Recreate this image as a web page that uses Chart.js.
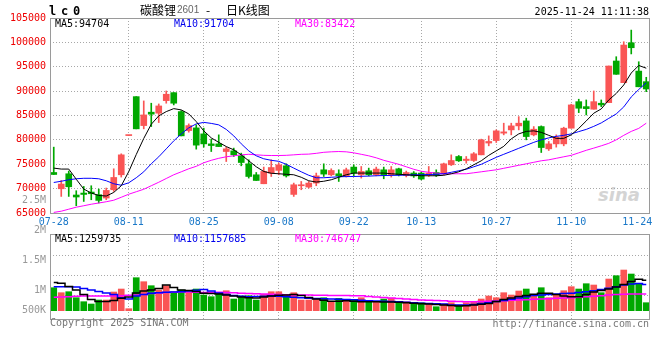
<!DOCTYPE html>
<html><head><meta charset="utf-8">
<script src="https://cdn.jsdelivr.net/npm/chart.js@4.4.1/dist/chart.umd.min.js"></script>
<style>
html,body{margin:0;padding:0;background:#fff;}
#stage{position:relative;width:660px;height:360px;overflow:hidden;background:#fff;}
canvas{position:absolute;left:0;}
.t{position:absolute;white-space:pre;font:10px/10px 'DejaVu Sans Mono',monospace;color:#000;}
</style></head><body>
<div id="stage">
<div class="t" style="left:598px;top:186px;font:bold italic 18px/18px 'DejaVu Sans',sans-serif;color:#d4d4d4">sina</div>
<canvas id="kc" width="660" height="228" style="top:0"></canvas>
<canvas id="vc" width="660" height="150" style="top:190px"></canvas>
<div class="t" style="left:49px;top:5px;font:bold 12px/12px 'DejaVu Sans Mono',monospace;letter-spacing:4.8px">lc0</div>
<div class="t" style="left:140px;top:4px;font:12px/12px 'Noto Sans CJK SC',sans-serif">碳酸锂</div>
<div class="t" style="left:177px;top:5px;font:10px/10px 'Liberation Sans',sans-serif;color:#666">2601</div>
<div class="t" style="left:206px;top:4px;font:12px/12px 'Noto Sans CJK SC',sans-serif">-</div>
<div class="t" style="left:226px;top:4px;font:12px/12px 'Noto Sans CJK SC',sans-serif">日K线图</div>
<div class="t" style="right:11px;top:7px">2025-11-24 11:11:38</div>
<div class="t" style="left:55px;top:19px">MA5:94704</div>
<div class="t" style="left:174px;top:19px;color:#0000ee">MA10:91704</div>
<div class="t" style="left:295px;top:19px;color:#ff00ff">MA30:83422</div>
<div class="t" style="left:55px;top:234px">MA5:1259735</div>
<div class="t" style="left:174px;top:234px;color:#0000ee">MA10:1157685</div>
<div class="t" style="left:295px;top:234px;color:#ff00ff">MA30:746747</div>
<div class="t" style="left:50px;top:318px;color:#777">Copyright 2025 SINA.COM</div>
<div class="t" style="right:11px;top:319px;color:#777">http://finance.sina.com.cn</div>
</div>
<script>
const dates = ['07-28','07-29','07-30','07-31','08-01','08-04','08-05','08-06','08-07','08-08',
'08-11','08-12','08-13','08-14','08-15','08-18','08-19','08-20','08-21','08-22',
'08-25','08-26','08-27','08-28','08-29','09-01','09-02','09-03','09-04','09-05',
'09-08','09-09','09-10','09-11','09-12','09-15','09-16','09-17','09-18','09-19',
'09-22','09-23','09-24','09-25','09-26','09-29','09-30','10-09','10-10',
'10-13','10-14','10-15','10-16','10-17','10-20','10-21','10-22','10-23','10-24',
'10-27','10-28','10-29','10-30','10-31','11-03','11-04','11-05','11-06','11-07',
'11-10','11-11','11-12','11-13','11-14','11-17','11-18','11-19','11-20','11-21',
'11-24'];
const tickDates = ['07-28','08-11','08-25','09-08','09-22','10-13','10-27','11-10','11-24'];

const opens = [73310,69970,73050,68690,69090,69300,68750,68070,69770,72840,
80880,88870,82930,85680,85470,88050,89690,85800,81910,82460,
81230,79180,79180,77610,77750,76730,75090,72840,71000,73190,
73740,74680,68810,70590,70320,71140,73860,72840,73050,72490,
74420,72840,73660,72840,73860,72840,74070,72700,73200,73190,
72780,73310,73050,74890,76590,75770,75770,76930,79350,79860,
81380,82050,82870,83890,81030,82730,78160,79180,79180,82400,
87840,86820,86290,87520,87640,96180,91730,99920,94110,91940];
const highs = [78510,71670,73600,69570,70450,70590,69910,70120,74070,77140,
80940,88870,87990,87520,87370,90030,89690,86000,83280,83080,
82400,80150,81030,78510,78310,77280,75910,73310,74420,75910,
75240,75090,71140,71470,71470,73190,75090,74070,73860,74210,
74890,74540,74210,74420,74420,74540,74200,73600,73500,73400,
74540,73860,75240,76930,76790,76590,77410,80150,80820,82050,
83420,83420,84770,84450,82730,82870,79670,81030,82600,87310,
88340,88190,90030,88190,95150,97060,100130,102520,96030,92840];
const lows = [72900,68400,68400,66490,67370,67720,67050,67720,69420,72370,
80880,82260,82260,82730,83550,87520,87170,80820,81580,78100,
78510,77610,78630,75560,76590,74680,72160,71670,71000,72490,
72840,72370,68400,69770,70120,70590,72490,72620,71470,72370,
72620,72160,72620,72620,72020,72370,72600,72400,72300,71800,
72490,72490,72840,74740,75560,75220,75560,76930,78780,79470,
81030,81030,82050,80010,80820,77410,77820,78510,78780,82400,
85590,85120,86290,86820,87640,93450,91730,97630,90890,89890];
const closes = [72900,70940,70380,68280,68810,68950,67580,69630,72290,76930,
80940,82260,85120,85270,86960,89360,87520,80820,82930,78920,
79180,78840,78630,78160,76930,75360,72490,71670,73520,74330,
74890,72620,70790,70790,71140,72620,72980,73720,72640,73860,
73190,73520,72840,74010,72840,73860,72840,73300,72600,71960,
73190,72780,75090,75770,75710,76050,77140,80010,79670,81850,
81640,82870,83420,80680,82190,78430,79180,80560,82400,87170,
86490,86410,87840,87170,95150,93450,99450,98900,90890,90440];

const ma5 = [74210,74010,74010,71920,69910,69090,68600,68480,69220,70590,
73500,77000,80300,83200,84920,85800,86410,86150,85330,83750,
81850,80410,79490,78630,77960,76930,75710,74480,73520,73150,
73050,72940,72840,72330,71610,71350,71510,71820,72330,72840,
73190,73190,73190,73190,73190,73050,72940,72840,72740,72640,
72640,72640,72740,73050,73450,74070,74890,75710,76830,77750,
78670,80210,81230,81740,81850,81540,80930,80310,80310,81030,
82360,83890,85470,86350,88190,89520,91260,93720,95260,94704];
const ma10 = [71260,71510,71820,72020,72120,72120,72020,71610,71000,70690,
71200,72230,73450,75090,76530,78160,79800,81230,82460,83280,
83590,83380,83080,82150,80820,79190,77750,76730,76120,75810,
75600,74990,74210,73450,72740,72230,72230,72330,72430,72470,
72490,72530,72570,72640,72680,72720,72740,72780,72840,72840,
72900,72940,73050,73350,73660,73970,74480,74990,75710,76420,
77040,77650,78270,78880,79490,80010,80410,80720,80930,81230,
81700,82150,82770,83480,84410,85330,86760,88810,90340,91704];
const ma30 = [65120,65370,65780,66190,66490,66800,67050,67310,67620,68230,
68850,69360,69870,70590,71310,72080,72840,73450,74070,74580,
75300,75810,76220,76530,76730,76930,77040,76930,76830,76790,
76790,76830,76930,77040,77080,77240,77450,77550,77610,77550,
77340,77040,76730,76320,75810,75400,74990,74480,73970,73560,
73350,73190,73050,73050,73050,73050,73250,73450,73660,73860,
74170,74480,74790,75090,75400,75710,75910,76220,76530,76830,
77340,77860,78310,78780,79290,80010,80930,81740,82360,83422];

const volumes = [1075000,950000,975000,825000,725000,667000,767000,767000,967000,1042000,
550000,1325000,1225000,1125000,1017000,1125000,975000,1017000,975000,1042000,
892000,850000,950000,1000000,792000,867000,875000,767000,908000,975000,
975000,875000,950000,767000,767000,808000,825000,725000,808000,750000,
767000,825000,725000,725000,792000,808000,725000,725000,700000,700000,
683000,600000,667000,700000,642000,700000,725000,792000,867000,825000,
950000,892000,992000,1042000,867000,1075000,825000,892000,1000000,1100000,
1042000,1175000,1142000,950000,1292000,1375000,1517000,1417000,1183000,700000];
const volMa5 = [1205000,1185000,1105000,1018000,905000,780000,730000,730000,755000,810000,
843000,943000,993000,1018000,1055000,1143000,1080000,1018000,1005000,980000,
935000,930000,918000,893000,868000,843000,825000,818000,843000,868000,
885000,893000,905000,880000,830000,793000,760000,735000,735000,750000,
735000,725000,725000,725000,718000,718000,710000,700000,685000,675000,
668000,655000,643000,630000,618000,625000,643000,660000,680000,730000,
780000,818000,855000,880000,910000,935000,935000,905000,868000,850000,
850000,905000,968000,1005000,1043000,1093000,1155000,1230000,1285000,1259735];
const volMa10 = [1100000,1100000,1100000,1093000,1055000,1018000,980000,943000,905000,825000,
793000,868000,905000,935000,950000,960000,968000,975000,993000,1010000,
1030000,993000,943000,905000,880000,860000,850000,855000,860000,868000,
860000,850000,835000,825000,810000,805000,800000,793000,788000,780000,
773000,760000,750000,743000,735000,730000,725000,713000,700000,688000,
680000,673000,668000,643000,643000,643000,655000,680000,700000,730000,
755000,785000,818000,850000,880000,893000,905000,918000,930000,935000,
955000,975000,1000000,1030000,1060000,1098000,1143000,1168000,1180000,1157685];
const volMa30 = [835000,843000,850000,860000,868000,868000,868000,868000,868000,875000,
885000,893000,905000,930000,943000,955000,963000,968000,968000,963000,
958000,960000,960000,955000,948000,938000,930000,923000,915000,910000,
905000,900000,895000,893000,890000,888000,885000,883000,880000,878000,
875000,873000,855000,843000,830000,818000,805000,793000,780000,768000,
760000,753000,750000,738000,730000,725000,725000,730000,735000,743000,
750000,760000,768000,775000,785000,793000,800000,810000,818000,825000,
835000,848000,860000,875000,893000,905000,913000,918000,918000,918000];

const priceTicks = [65000,70000,75000,80000,85000,90000,95000,100000,105000];
const volGridValues = [885000,1385000,1875000];
const volTickValues = [500000,1000000,1750000,2510000,3250000];
const volTickLabels = ['500K','1M','1.5M','2M','2.5M'];

const UP = '#fa5555', DOWN = '#00a800', GRID = '#a8a8a8';
const isUp = i => closes[i] >= opens[i];
const candleColor = c => isUp(c.dataIndex) ? UP : DOWN;
const isKey = i => tickDates.includes(dates[i]);
const innerKey = i => isKey(i) && i !== 0 && i !== dates.length - 1;

Chart.defaults.font.family = "'DejaVu Sans Mono', monospace";
Chart.defaults.font.size = 10;
Chart.defaults.animation = false;

const frame = {
  id: 'frame',
  afterDraw(chart) {
    const a = chart.chartArea, ctx = chart.ctx;
    ctx.save();
    ctx.strokeStyle = '#9a9a9a';
    ctx.lineWidth = 1;
    ctx.strokeRect(Math.round(a.left) + 0.5, Math.round(a.top) + 0.5,
                   Math.round(a.right - a.left) - 1, Math.round(a.bottom - a.top));
    ctx.restore();
  }
};

const xCommon = {
  type: 'category',
  offset: true,
  grid: { offset: false, drawTicks: false, color: c => innerKey(c.index) ? GRID : 'rgba(0,0,0,0)', lineWidth: 1 },
  border: { display: false, dash: [1, 2] },
};

new Chart(document.getElementById('kc'), {
  data: {
    labels: dates,
    datasets: [
      { type: 'line', label: 'MA5', data: ma5, borderColor: '#000', borderWidth: 1, pointRadius: 0, order: 1 },
      { type: 'line', label: 'MA10', data: ma10, borderColor: '#0000ff', borderWidth: 1, pointRadius: 0, order: 1 },
      { type: 'line', label: 'MA30', data: ma30, borderColor: '#ff00ff', borderWidth: 1, pointRadius: 0, order: 1 },
      { type: 'bar', label: 'HL', data: lows.map((l, i) => [l, highs[i]]), backgroundColor: candleColor,
        barThickness: 1, grouped: false, order: 3 },
      { type: 'bar', label: 'OC', data: opens.map((o, i) => [o, closes[i]]), backgroundColor: candleColor,
        barThickness: 6, minBarLength: 1, grouped: false, order: 2 }
    ]
  },
  options: {
    responsive: false,
    devicePixelRatio: 1,
    layout: { padding: { top: 18, right: 10, left: 0, bottom: 0 } },
    plugins: { legend: { display: false }, tooltip: { enabled: false } },
    scales: {
      x: Object.assign({}, xCommon, {
        ticks: { autoSkip: false, maxRotation: 0, minRotation: 0, padding: 3, color: '#1a78c8',
          callback: (v, i) => isKey(i) ? (i === dates.length - 1 ? dates[i] + '   ' : dates[i]) : '' },
        afterFit: s => { s.height = 15; s.paddingLeft = 0; s.paddingRight = 0; }
      }),
      y: {
        min: priceTicks[0], max: priceTicks[priceTicks.length - 1],
        afterBuildTicks: s => { s.ticks = priceTicks.map(v => ({ value: v })); },
        ticks: { color: '#ee0000', padding: 4, callback: v => String(v) },
        grid: { color: GRID, drawTicks: false },
        border: { display: false, dash: [1, 2] },
        afterFit: s => { s.width = 50; }
      }
    }
  },
  plugins: [frame]
});

new Chart(document.getElementById('vc'), {
  data: {
    labels: dates,
    datasets: [
      { type: 'line', label: 'VMA5', data: volMa5, borderColor: '#000', borderWidth: 1.5, pointRadius: 0, stepped: 'middle', order: 1 },
      { type: 'line', label: 'VMA10', data: volMa10, borderColor: '#0000ff', borderWidth: 1.5, pointRadius: 0, stepped: 'middle', order: 1 },
      { type: 'line', label: 'VMA30', data: volMa30, borderColor: '#ff00ff', borderWidth: 1.5, pointRadius: 0, stepped: 'middle', order: 1 },
      { type: 'bar', label: 'VOL', data: volumes, base: 500000, backgroundColor: candleColor, barThickness: 6, order: 2 }
    ]
  },
  options: {
    responsive: false,
    devicePixelRatio: 1,
    layout: { padding: { top: 44, right: 10, left: 0, bottom: 21 } },
    plugins: { legend: { display: false }, tooltip: { enabled: false } },
    scales: {
      x: Object.assign({}, xCommon, {
        ticks: { display: false, autoSkip: false, maxRotation: 0, minRotation: 0 },
        afterFit: s => { s.height = 0; s.paddingLeft = 0; s.paddingRight = 0; }
      }),
      y: {
        position: 'left', min: 292500, max: 2417500,
        afterBuildTicks: s => { s.ticks = volGridValues.map(v => ({ value: v })); },
        ticks: { display: false },
        grid: { color: GRID, drawTicks: false },
        border: { display: false, dash: [1, 2] },
        afterFit: s => { s.width = 0; }
      },
      yl: {
        position: 'left', min: 292500, max: 2417500,
        afterBuildTicks: s => { s.ticks = volTickValues.map(v => ({ value: v })); },
        ticks: { autoSkip: false, color: '#999', padding: 4, callback: (v, i) => volTickLabels[i] },
        grid: { display: false, drawTicks: false },
        border: { display: false },
        afterFit: s => { s.width = 50; }
      }
    }
  },
  plugins: [frame]
});
</script>
</body></html>
